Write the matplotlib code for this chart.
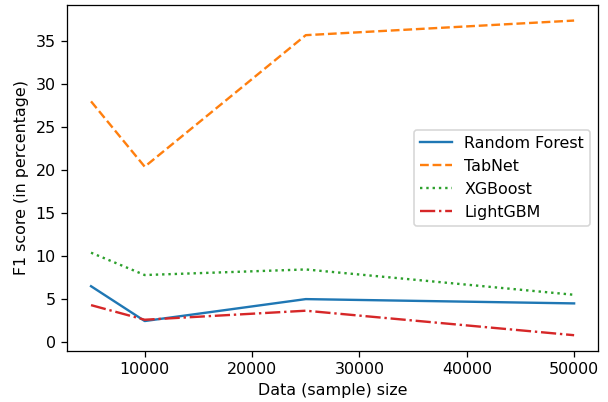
import matplotlib
matplotlib.use("Agg")
import matplotlib.pyplot as plt

# sample sizes and F1 scores (%)
sizes = [5000, 10000, 25000, 50000]
random_forest = [6.5, 2.45, 5.0, 4.5]
tabnet = [28.0, 20.4, 35.7, 37.4]
xgboost = [10.4, 7.8, 8.45, 5.5]
lightgbm = [4.3, 2.6, 3.65, 0.8]

# the reference is a slightly enlarged default figure, so scale via dpi
fig, ax = plt.subplots(figsize=(608 / 114, 402 / 114), dpi=114)
ax.plot(sizes, random_forest, label="Random Forest", linestyle="-")
ax.plot(sizes, tabnet, label="TabNet", linestyle="--")
ax.plot(sizes, xgboost, label="XGBoost", linestyle=":")
ax.plot(sizes, lightgbm, label="LightGBM", linestyle="-.")
ax.set_xlabel("Data (sample) size")
ax.set_ylabel("F1 score (in percentage)")
ax.legend(loc="center right")
fig.subplots_adjust(left=0.11, right=0.984, top=0.988, bottom=0.127)
fig.savefig("out.png", dpi=114)
